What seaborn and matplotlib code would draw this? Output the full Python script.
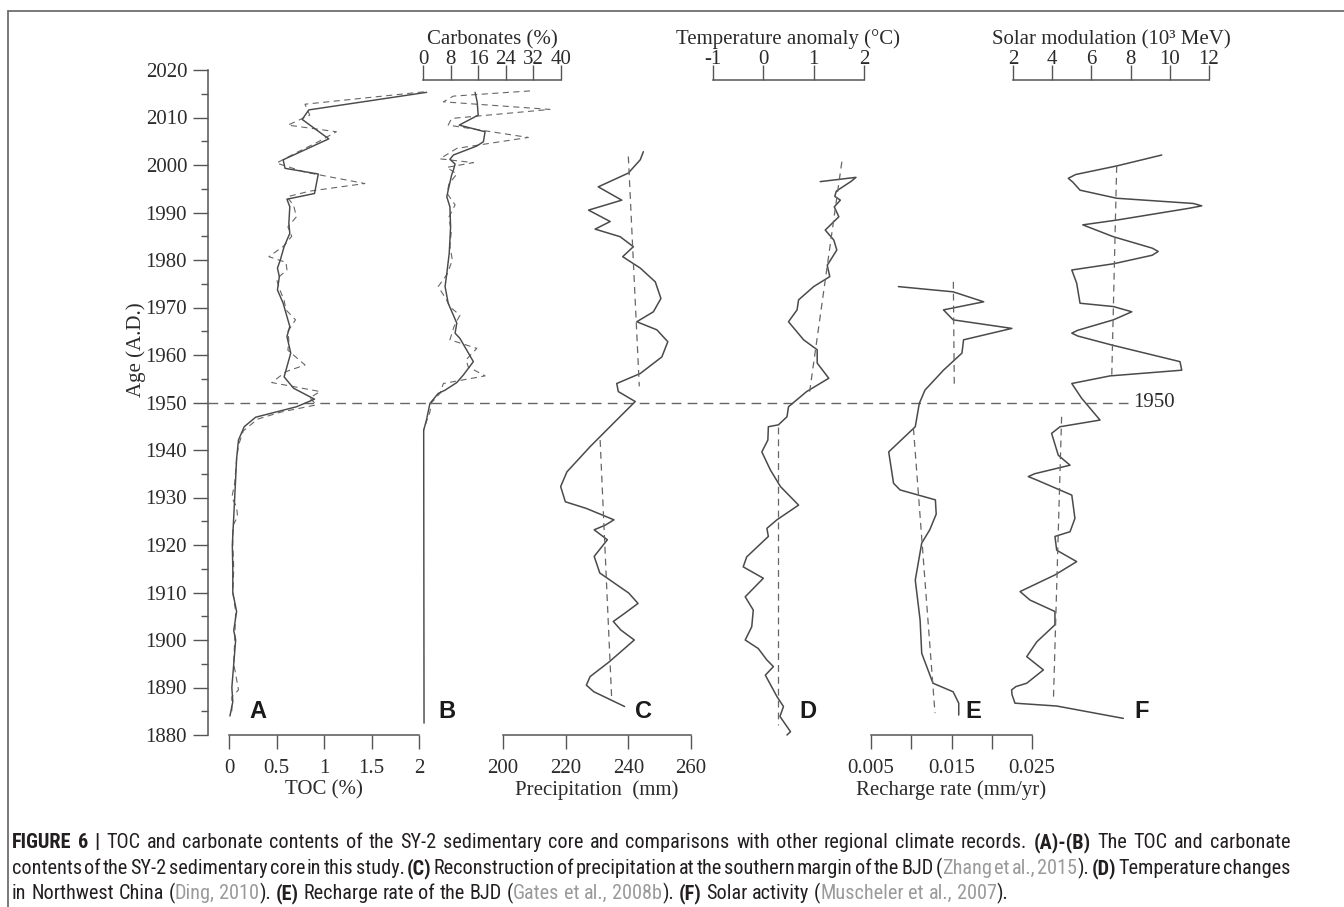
import numpy as np
import pandas as pd
import matplotlib
matplotlib.use("Agg")
import matplotlib.pyplot as plt
import seaborn as sns
from matplotlib import font_manager
from matplotlib.lines import Line2D

# ---------------- data ----------------
age_ticks = list(range(1880, 2021, 10))
age_minor = list(range(1885, 2020, 10))

# A: TOC (%)
toc_year = [2015.3, 2011.6, 2009.6, 2005.5, 2001.1, 1999.3, 1998.1, 1994.0, 1992.8, 1991.2, 1987.7,
            1985.6, 1982.8, 1980.0, 1978.3, 1976.5, 1973.7, 1970.9, 1966.0, 1963.9, 1960.4, 1955.4,
            1953.0, 1950.7, 1949.1, 1946.9, 1944.9, 1942.1, 1938.2, 1934.0, 1930.0, 1926.0, 1920.0,
            1915.0, 1910.0, 1906.0, 1902.0, 1900.0, 1895.0, 1890.0, 1887.0, 1884.0]
toc_smooth = [2.08, 0.84, 0.77, 1.05, 0.57, 0.59, 0.94, 0.90, 0.61, 0.64, 0.63,
              0.64, 0.58, 0.54, 0.51, 0.53, 0.51, 0.57, 0.64, 0.61, 0.65, 0.58,
              0.68, 0.90, 0.71, 0.28, 0.16, 0.10, 0.08, 0.07, 0.06, 0.05, 0.035,
              0.04, 0.04, 0.08, 0.05, 0.07, 0.05, 0.03, 0.04, 0.01]
toc_raw_year = [2015.4, 2012.8, 2010.5, 2008.4, 2007.0, 2005.0, 2002.5, 2000.4, 1998.5, 1996.1, 1994.5,
                1993.3, 1991.5, 1989.1, 1987.0, 1985.0, 1983.0, 1980.7, 1979.5, 1977.9, 1976.0, 1974.0,
                1971.5, 1969.5, 1967.4, 1965.0, 1963.0, 1961.0, 1957.9, 1956.5, 1954.2, 1952.3, 1951.0,
                1949.5, 1948.0, 1946.5, 1944.0, 1941.0, 1938.0, 1933.0, 1930.0, 1928.0, 1926.0, 1924.0,
                1920.0, 1915.0, 1910.0, 1906.0, 1900.0, 1895.0, 1889.5, 1888.0, 1885.0]
toc_raw = [2.05, 0.80, 0.85, 0.62, 1.13, 0.95, 0.70, 0.50, 0.80, 1.43, 0.85,
           0.61, 0.68, 0.71, 0.62, 0.66, 0.58, 0.42, 0.60, 0.61, 0.50, 0.53,
           0.58, 0.60, 0.70, 0.62, 0.63, 0.62, 0.80, 0.60, 0.45, 0.96, 0.85,
           0.92, 0.55, 0.30, 0.15, 0.10, 0.08, 0.06, 0.03, 0.08, 0.09, 0.04,
           0.04, 0.05, 0.04, 0.07, 0.06, 0.05, 0.10, 0.03, 0.03]

# B: Carbonates (%)
carb_year = [2015.3, 2013.3, 2010.5, 2008.4, 2007.0, 2004.9, 2004.0, 2002.1, 2001.2, 2000.2, 1998.9,
             1997.9, 1994.7, 1993.3, 1991.2, 1987.0, 1981.4, 1977.2, 1974.4, 1970.9, 1966.7, 1964.6,
             1963.5, 1958.6, 1955.8, 1954.2, 1952.6, 1951.9, 1949.8, 1946.3, 1944.2, 1882.5]
carb_smooth = [15.1, 15.7, 16.0, 10.5, 18.0, 17.5, 15.6, 8.8, 7.8, 9.3, 8.8,
               8.3, 7.3, 6.9, 7.8, 8.0, 7.6, 6.9, 6.4, 7.3, 9.8, 9.3,
               10.7, 14.6, 11.7, 9.8, 6.4, 4.4, 2.0, 1.0, 0.2, 0.3]
carb_raw_year = [2015.6, 2014.5, 2013.3, 2011.7, 2009.8, 2008.4, 2005.8, 2003.5, 2001.3, 2000.5, 1999.5,
                 1998.1, 1996.0, 1994.0, 1991.6, 1989.0, 1986.0, 1983.0, 1980.0, 1977.0, 1974.4, 1972.0,
                 1970.0, 1968.4, 1966.0, 1963.2, 1961.4, 1959.0, 1957.5, 1955.6, 1954.0, 1952.0, 1950.0,
                 1948.0, 1946.0, 1944.2]
carb_raw = [31.0, 8.8, 5.9, 36.8, 8.3, 7.3, 30.5, 9.8, 4.9, 14.6, 6.9,
            9.8, 7.5, 7.0, 9.3, 7.5, 8.2, 7.8, 8.5, 7.0, 4.4, 6.5,
            8.0, 10.7, 9.0, 7.8, 15.6, 12.5, 13.1, 18.0, 5.9, 5.0, 2.5,
            2.0, 1.0, 0.2]

# C: Precipitation (mm)
prec_year = [2002.8, 2001.1, 1998.3, 1995.4, 1992.6, 1990.5, 1988.1, 1986.5, 1984.9, 1982.8, 1980.7,
             1978.3, 1975.4, 1971.9, 1969.1, 1967.0, 1965.3, 1962.8, 1959.6, 1956.1, 1954.0, 1952.3,
             1950.2, 1945.6, 1940.7, 1935.4, 1932.3, 1929.1, 1927.7, 1925.3, 1924.2, 1923.2, 1921.1,
             1917.6, 1914.1, 1909.9, 1907.7, 1905.6, 1903.9, 1902.1, 1900.0, 1895.4, 1892.3, 1890.5,
             1889.1, 1886.0]
prec_val = [244.8, 243.8, 240.0, 230.4, 237.9, 227.3, 234.2, 229.4, 237.4, 241.6, 238.2,
            243.8, 248.6, 250.4, 248.0, 242.7, 249.1, 252.6, 250.7, 243.8, 236.3, 236.8,
            242.2, 235.2, 227.8, 220.4, 218.4, 219.9, 226.6, 235.4, 232.7, 229.1, 233.3,
            229.1, 230.9, 240.1, 243.1, 238.8, 235.2, 237.6, 241.9, 233.9, 227.8, 226.6,
            229.0, 238.8]
prec_trend_year = [[2001.8, 1953.4], [1942.1, 1887.4]]
prec_trend = [[240.0, 243.5], [231.0, 234.7]]

# D: Temperature anomaly (deg C)
temp_year = [1996.5, 1997.4, 1996.6, 1994.5, 1993.4, 1992.6, 1991.2, 1989.1, 1986.3, 1984.2, 1982.1,
             1978.9, 1976.5, 1974.4, 1971.6, 1969.5, 1967.0, 1963.2, 1961.1, 1958.3, 1955.1, 1952.3,
             1949.1, 1947.0, 1945.3, 1944.9, 1942.1, 1939.6, 1935.8, 1932.3, 1928.4, 1925.3, 1923.5,
             1921.8, 1917.5, 1915.4, 1913.0, 1909.1, 1906.3, 1902.8, 1900.0, 1898.2, 1895.8, 1894.4,
             1892.6, 1888.1, 1886.0, 1883.9, 1880.7, 1880.0]
temp_val = [1.13, 1.84, 1.75, 1.45, 1.42, 1.53, 1.41, 1.50, 1.23, 1.40, 1.46,
            1.27, 1.32, 1.00, 0.70, 0.67, 0.50, 0.80, 1.07, 1.07, 1.30, 0.86,
            0.50, 0.47, 0.30, 0.10, 0.09, -0.03, 0.14, 0.34, 0.70, 0.27, 0.07,
            0.10, -0.33, -0.40, 0.00, -0.36, -0.20, -0.23, -0.36, -0.10, 0.07, 0.20,
            0.04, 0.27, 0.40, 0.33, 0.54, 0.47]
temp_trend_year = [[2000.7, 1952.3], [1944.9, 1882.1]]
temp_trend = [[1.56, 0.92], [0.30, 0.30]]

# E: Recharge rate (mm/yr)
rech_year = [1974.4, 1973.3, 1971.2, 1969.5, 1967.4, 1965.6, 1963.2, 1960.4, 1956.8, 1952.6, 1949.8,
             1944.9, 1939.6, 1933.0, 1931.6, 1929.5, 1926.5, 1923.2, 1920.4, 1912.6, 1904.2, 1897.2,
             1890.9, 1889.1, 1886.7, 1884.2]
rech_val = [0.0084, 0.0152, 0.0190, 0.0140, 0.0152, 0.0225, 0.0165, 0.0163, 0.0140, 0.0117, 0.0110,
            0.0105, 0.0072, 0.0078, 0.0086, 0.0130, 0.0131, 0.0123, 0.0113, 0.0105, 0.0111, 0.0113,
            0.0127, 0.0152, 0.0159, 0.0159]
rech_trend_year = [[1975.4, 1953.0], [1944.6, 1884.6]]
rech_trend = [[0.01523, 0.01535], [0.01027, 0.01295]]

# F: Solar modulation (10^3 MeV)
sol_year = [2002.1, 1999.8, 1998.0, 1997.2, 1996.4, 1994.7, 1993.0, 1991.9, 1991.4, 1990.9, 1988.4,
            1987.4, 1984.9, 1982.5, 1981.8, 1981.0, 1979.2, 1977.9, 1975.1, 1970.9, 1970.2, 1969.1,
            1967.4, 1965.2, 1964.6, 1964.0, 1962.1, 1958.6, 1956.8, 1955.6, 1954.0, 1950.9, 1946.3,
            1944.9, 1943.5, 1938.9, 1936.8, 1935.0, 1934.4, 1933.7, 1930.5, 1925.6, 1922.8, 1921.8,
            1918.9, 1916.5, 1913.7, 1910.2, 1908.4, 1906.0, 1903.2, 1899.6, 1896.5, 1893.7, 1890.9,
            1890.2, 1889.5, 1888.5, 1886.7, 1886.1, 1883.5]
sol_val = [9.59, 7.29, 5.20, 4.82, 5.05, 5.42, 7.29, 11.20, 11.63, 11.00, 7.29,
           5.56, 7.12, 9.10, 9.41, 9.10, 7.12, 5.00, 5.25, 5.42, 7.12, 8.06,
           7.12, 5.30, 5.00, 5.30, 7.04, 10.52, 10.61, 6.95, 5.00, 5.50, 6.44,
           4.40, 3.97, 4.31, 4.91, 3.10, 2.78, 3.20, 5.00, 5.16, 4.91, 4.14,
           4.23, 5.25, 4.14, 2.36, 2.87, 4.14, 4.14, 3.21, 2.70, 3.55, 2.70,
           2.15, 1.93, 1.95, 2.10, 4.23, 7.63]
sol_trend_year = [[1999.8, 1955.8], [1947.0, 1887.1]]
sol_trend = [[7.29, 7.04], [4.48, 4.06]]

toc_ticks = [0, 0.5, 1, 1.5, 2]
toc_labels = ["0", "0.5", "1", "1.5", "2"]
carb_ticks = [0, 8, 16, 24, 32, 40]
prec_ticks = [200, 220, 240, 260]
temp_ticks = [-1, 0, 1, 2]
rech_ticks = [0.005, 0.010, 0.015, 0.020, 0.025]
rech_labels = ["0.005", "", "0.015", "", "0.025"]
sol_ticks = [2, 4, 6, 8, 10, 12]
panel_letters = ["A", "B", "C", "D", "E", "F"]

# ---------------- style ----------------
sns.set_theme(style="ticks")
plt.rcParams["font.family"] = ["Liberation Serif", "DejaVu Serif"]
plt.rcParams["axes.unicode_minus"] = False

W, H = 1344, 907
fig = plt.figure(figsize=(W / 100, H / 100), dpi=100)
fig.patch.set_facecolor("white")

Y_TOP, Y_BOT = 70, 735
YEAR_MIN, YEAR_MAX = 1880, 2020
INK = "#2b2b2b"
AXC = "#555555"
LINEC = "#4a4a4a"
DASHC = "#666666"
FS = 15


def rect(x0, x1):
    return [x0 / W, 1 - Y_BOT / H, (x1 - x0) / W, (Y_BOT - Y_TOP) / H]


# base age axis
ax0 = fig.add_axes(rect(208, 1300))
ax0.set_xlim(208, 1300)
ax0.set_ylim(YEAR_MIN, YEAR_MAX)
ax0.patch.set_alpha(0)
for s in ["top", "right", "bottom"]:
    ax0.spines[s].set_visible(False)
ax0.spines["left"].set_color(AXC)
ax0.spines["left"].set_linewidth(1.1)
ax0.set_xticks([])
ax0.set_yticks(age_ticks)
ax0.set_yticks(age_minor, minor=True)
ax0.tick_params(axis="y", which="major", left=True, direction="out", length=10.5, width=1.0,
                color=AXC, labelsize=FS, labelcolor=INK, pad=4.5)
ax0.tick_params(axis="y", which="minor", left=True, direction="out", length=5, width=1.0, color=AXC)
ax0.set_ylabel("Age (A.D.)", fontsize=FS, color=INK)
ax0.yaxis.set_label_coords((146 - 208) / 1092, (735 - 350) / 665)
ax0.axhline(1950, xmin=0, xmax=(1128 - 208) / 1092, color=DASHC, lw=1.0, linestyle=(0, (7, 4.5)))
ax0.text(1133, 1950, "1950", ha="left", va="center", fontsize=FS, color=INK)


def panel(x0, x1, lim, side, ticks, labels, title, title_y):
    ax = fig.add_axes(rect(x0, x1))
    ax.set_xlim(*lim)
    ax.set_ylim(YEAR_MIN, YEAR_MAX)
    ax.patch.set_visible(False)
    for s in ["left", "right", "top", "bottom"]:
        ax.spines[s].set_visible(s == side)
    ax.spines[side].set_color(AXC)
    ax.spines[side].set_linewidth(1.1)
    ax.set_yticks([])
    ax.tick_params(axis="y", left=False, right=False)
    ax.set_xticks(ticks)
    ax.set_xticklabels(labels)
    if side == "top":
        ax.xaxis.tick_top()
        ax.xaxis.set_label_position("top")
        ax.spines["top"].set_position(("outward", -10 * 72 / 100))
        ax.tick_params(axis="x", top=True, bottom=False, labeltop=True, labelbottom=False,
                       direction="out", length=11, width=1.0, color=AXC, labelsize=FS,
                       labelcolor=INK, pad=-3)
    else:
        ax.tick_params(axis="x", bottom=True, top=False, direction="out", length=10, width=1.0,
                       color=AXC, labelsize=FS, labelcolor=INK, pad=7.5)
    ax.set_xlabel(title, fontsize=FS, color=INK)
    ax.xaxis.set_label_coords(0.5, title_y)
    ax.grid(False)
    return ax


TOP_T = 1 + (70 - 44) / 665
BOT_T = -(780 - 735) / 665

ax_toc = panel(229, 419, (0, 2), "bottom", toc_ticks, toc_labels, "TOC (%)", BOT_T)
ax_carb = panel(423, 561, (0, 40), "top", carb_ticks, [str(t) for t in carb_ticks], "Carbonates (%)", TOP_T)
ax_prec = panel(503, 691, (200, 260), "bottom", prec_ticks, [str(t) for t in prec_ticks],
                "Precipitation  (mm)", BOT_T)
ax_temp = panel(713, 864, (-1, 2), "top", temp_ticks, [str(t) for t in temp_ticks],
                "Temperature anomaly (°C)", TOP_T)
ax_rech = panel(871, 1032, (0.005, 0.025), "bottom", rech_ticks, rech_labels,
                "Recharge rate (mm/yr)", BOT_T)
ax_sol = panel(1013, 1209, (2, 12), "top", sol_ticks, [str(t) for t in sol_ticks],
               "Solar modulation (10³ MeV)", TOP_T)


def curve(ax, vals, years, dashed=False, lw=1.1, color=LINEC):
    ls = (0, (5.5, 4)) if dashed else "-"
    sns.lineplot(x=vals, y=years, ax=ax, sort=False, orient="y", estimator=None,
                 color=color, linewidth=lw, linestyle=ls, clip_on=False,
                 solid_joinstyle="round", solid_capstyle="round")


curve(ax_toc, toc_raw, toc_raw_year, dashed=True, lw=0.8, color=DASHC)
curve(ax_toc, toc_smooth, toc_year, lw=1.05)
curve(ax_carb, carb_raw, carb_raw_year, dashed=True, lw=0.8, color=DASHC)
curve(ax_carb, carb_smooth, carb_year, lw=1.05)

curve(ax_prec, prec_val, prec_year, lw=1.1)
for yy, vv in zip(prec_trend_year, prec_trend):
    curve(ax_prec, vv, yy, dashed=True, lw=0.9, color=DASHC)
curve(ax_temp, temp_val, temp_year, lw=1.1)
for yy, vv in zip(temp_trend_year, temp_trend):
    curve(ax_temp, vv, yy, dashed=True, lw=0.9, color=DASHC)
curve(ax_rech, rech_val, rech_year, lw=1.1)
for yy, vv in zip(rech_trend_year, rech_trend):
    curve(ax_rech, vv, yy, dashed=True, lw=0.9, color=DASHC)
curve(ax_sol, sol_val, sol_year, lw=1.1)
for yy, vv in zip(sol_trend_year, sol_trend):
    curve(ax_sol, vv, yy, dashed=True, lw=0.9, color=DASHC)

for ax, lim in [(ax_toc, (0, 2)), (ax_carb, (0, 40)), (ax_prec, (200, 260)),
                (ax_temp, (-1, 2)), (ax_rech, (0.005, 0.025)), (ax_sol, (2, 12))]:
    ax.set_xlim(*lim)
    ax.set_ylim(YEAR_MIN, YEAR_MAX)
    ax.set_ylabel("")

# panel letters
letter_x = [258, 447, 643, 808, 973, 1142]
for lt, lx in zip(panel_letters, letter_x):
    fig.text(lx / W, 1 - 712 / H, lt, ha="center", va="center", fontsize=17,
             fontweight="bold", family=["Liberation Sans", "DejaVu Sans"], color="#1a1a1a")

# frame lines
fig.add_artist(Line2D([8 / W, 1.0], [1 - 11 / H, 1 - 11 / H], transform=fig.transFigure,
                      color="#6e6e6e", lw=1.3))
fig.add_artist(Line2D([8 / W, 8 / W], [1 - 11 / H, 0.0], transform=fig.transFigure,
                      color="#6e6e6e", lw=1.3))

# ---------------- caption ----------------
cap_lines = [
    [("FIGURE 6 |", "b"),
     (" TOC and carbonate contents of the SY-2 sedimentary core and comparisons with other regional climate records. ", "n"),
     ("(A)-(B)", "b"), (" The TOC and carbonate", "n")],
    [("contents of the SY-2 sedimentary core in this study. ", "n"), ("(C)", "b"),
     (" Reconstruction of precipitation at the southern margin of the BJD (", "n"),
     ("Zhang et al., 2015", "g"), ("). ", "n"), ("(D)", "b"), (" Temperature changes", "n")],
    [("in Northwest China (", "n"), ("Ding, 2010", "g"), ("). ", "n"), ("(E)", "b"),
     (" Recharge rate of the BJD (", "n"), ("Gates et al., 2008b", "g"), ("). ", "n"),
     ("(F)", "b"), (" Solar activity (", "n"), ("Muscheler et al., 2007", "g"), (").", "n")],
]


def has_font(name):
    try:
        font_manager.findfont(font_manager.FontProperties(family=name), fallback_to_default=False)
        return True
    except Exception:
        return False


cap_family = "Liberation Sans"
for cand in ["Liberation Sans Narrow", "Roboto Condensed", "Arial Narrow", "Open Sans Condensed",
             "Noto Sans Condensed", "Roboto", "Liberation Sans"]:
    if has_font(cand):
        cap_family = cand
        break

renderer = fig.canvas.get_renderer()
STY = {"n": ("normal", "#231f20"), "b": ("bold", "#231f20"), "g": ("normal", "#9a9a9a")}


def tok_width(txt, style, fs):
    t = fig.text(0, 0, txt, fontsize=fs, family=cap_family, fontweight=STY[style][0])
    w = t.get_window_extent(renderer=renderer).width
    t.remove()
    return w


def tokenize(segs):
    toks, gap = [], False
    for text, style in segs:
        parts = text.split(" ")
        for i, p in enumerate(parts):
            if i > 0:
                gap = True
            if p:
                toks.append((p, style, gap))
                gap = False
    return toks


def natural(toks, fs):
    sp = tok_width("a a", "n", fs) - tok_width("aa", "n", fs)
    ws = [tok_width(t, s, fs) for t, s, g in toks]
    ngap = sum(1 for t in toks if t[2])
    return sum(ws) + ngap * sp, ws, sp, ngap


X_L, X_R = 12, 1290
n1 = natural(tokenize(cap_lines[0]), 10)[0]
n2 = natural(tokenize(cap_lines[1]), 10)[0]
cap_fs = min(16.0, 10 * (X_R - X_L) / (0.5 * (n1 + n2)))
baselines = [848, 874, 899]
for li, segs in enumerate(cap_lines):
    toks = tokenize(segs)
    tot, ws, sp, ngap = natural(toks, cap_fs)
    extra = (X_R - X_L - tot) / ngap if (li < 2 and ngap) else 0.0
    x = X_L
    for (t, s, g), w in zip(toks, ws):
        if g:
            x += sp + extra
        fig.text(x / W, 1 - baselines[li] / H, t, fontsize=cap_fs, family=cap_family,
                 fontweight=STY[s][0], color=STY[s][1], ha="left", va="baseline")
        x += w

fig.savefig("out.png", dpi=100, facecolor="white")
